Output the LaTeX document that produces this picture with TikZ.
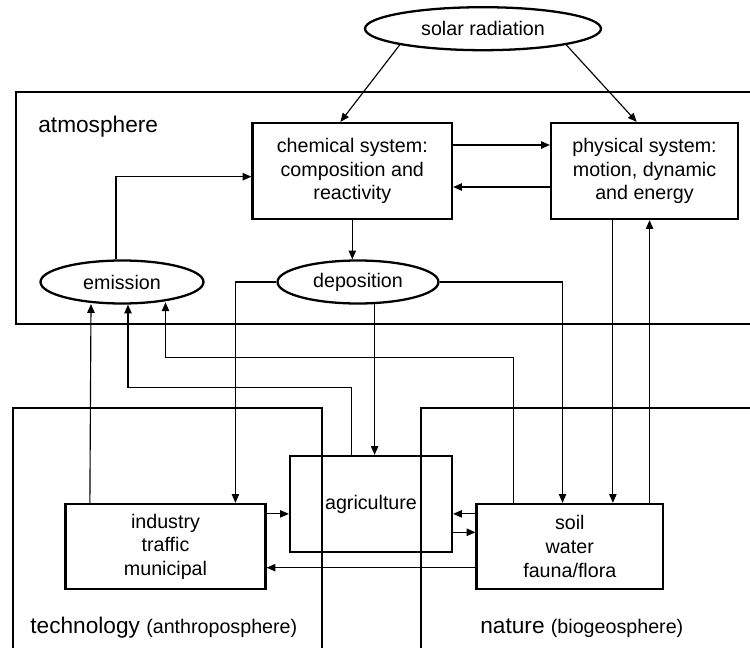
\documentclass[tikz,border=0pt]{standalone}
\usepackage{fontspec}
\setmainfont{Liberation Sans}
\usetikzlibrary{arrows.meta,shapes.geometric,calc}
\begin{document}
\begin{tikzpicture}[x=0.02cm,y=-0.02cm,
  box/.style={draw, line width=1.3pt, inner sep=0pt, align=center, font=\fontsize{11.2}{13.4}\selectfont},
  oval/.style={ellipse, draw, line width=1.3pt, fill=white, inner sep=0pt, font=\fontsize{11.2}{13.4}\selectfont},
  region/.style={draw, line width=1.3pt},
  arr/.style={line width=0.65pt, -{Triangle[length=5pt,width=4.2pt]}},
  biglabel/.style={font=\fontsize{12.9}{15}\selectfont, anchor=west, inner sep=0pt}
]
\useasboundingbox (0,0) rectangle (750,648);
\clip (0,0) rectangle (750,648);

% regions
\draw[region] (16,92) rectangle (770,324);
\draw[region] (13,408) rectangle (322,670);
\draw[region] (421,408) rectangle (770,670);

\node[biglabel] (atmlabel) at (38,127) {atmosphere};
\node[biglabel] (techlabel) at (30,628) {technology {\fontsize{11.2}{13.4}\selectfont(anthroposphere)}};
\node[biglabel] (natlabel) at (480,628) {nature {\fontsize{11.2}{13.4}\selectfont(biogeosphere)}};

% nodes
\node[oval, minimum width=4.72cm, minimum height=0.86cm] (solar) at (483,28.7) {solar radiation};
\node[box, minimum width=3.99cm, minimum height=1.92cm] (chem) at (352.3,171) {chemical system:\\composition and\\reactivity};
\node[box, minimum width=3.74cm, minimum height=1.92cm] (phys) at (644.5,171) {physical system:\\motion, dynamic\\and energy};
\node[oval, minimum width=3.26cm, minimum height=0.86cm] (emission) at (122,282) {emission};
\node[oval, minimum width=3.22cm, minimum height=0.86cm] (deposition) at (358,282) {deposition};
\node[box, minimum width=3.24cm, minimum height=1.92cm, text depth=0.06cm] (agri) at (371,504) {agriculture};
\node[box, minimum width=4.0cm, minimum height=1.7cm] (industry) at (165.5,546.5) {industry\\traffic\\municipal};
\node[box, minimum width=3.73cm, minimum height=1.7cm] (soil) at (569.8,546.5) {soil\\water\\fauna/flora};

% solar radiation
\draw[arr] (solar.191) -- ($(chem.north west)+(89,0)$);
\draw[arr] (solar.349) -- ($(phys.north west)+(86.8,0)$);

% chemical <-> physical
\draw[arr] ($(chem.east)+(0,-26)$) -- ($(phys.west)+(0,-26)$);
\draw[arr] ($(phys.west)+(0,16)$) -- ($(chem.east)+(0,16)$);

% emission -> chemical
\draw[arr] ($(emission.north)+(-6,0)$) |- ($(chem.west)+(0,5.7)$);

% chemical -> deposition
\draw[arr] (chem.south) -- (chem.south |- deposition.north);

% deposition outputs
\draw[arr] (deposition.west) -| ($(industry.north east)+(-31.2,0)$);
\draw[arr] (deposition.east) -| ($(soil.north west)+(87.1,0)$);
\draw[arr] ($(deposition.south)+(16.6,-0.5)$) -- ($(agri.north)+(3.6,0)$);

% to emission
\coordinate (bendA) at (128,387.7);
\coordinate (bendB) at (165.5,357.3);
\draw[arr] ($(industry.north west)+(25.5,0)$) -- ($(emission.south)+(-31,-0.6)$);
\draw[arr] ($(agri.north west)+(62.6,0)$) |- (bendA) -- ($(emission.south)+(6,0)$);
\draw[arr] ($(soil.north west)+(37.9,0)$) |- (bendB) -- ($(emission.south)+(43.5,-2.3)$);

% physical <-> soil
\coordinate (p1) at ($(phys.south west)+(63,0)$);
\coordinate (p2) at ($(phys.south west)+(99.7,0)$);
\draw[arr] (p1) -- (p1 |- soil.north);
\draw[arr] (p2 |- soil.north) -- (p2);

% horizontal exchanges
\coordinate (h1) at ($(industry.north east)+(0,11)$);
\draw[arr] (h1) -- (h1 -| agri.west);
\coordinate (h2) at ($(soil.north west)+(0,11)$);
\draw[arr] (h2) -- (h2 -| agri.east);
\coordinate (h3) at ($(agri.east)+(0,28.3)$);
\draw[arr] (h3) -- (h3 -| soil.west);
\coordinate (h4) at ($(soil.west)+(0,21.2)$);
\draw[arr] (h4) -- (h4 -| industry.east);
\end{tikzpicture}
\end{document}
